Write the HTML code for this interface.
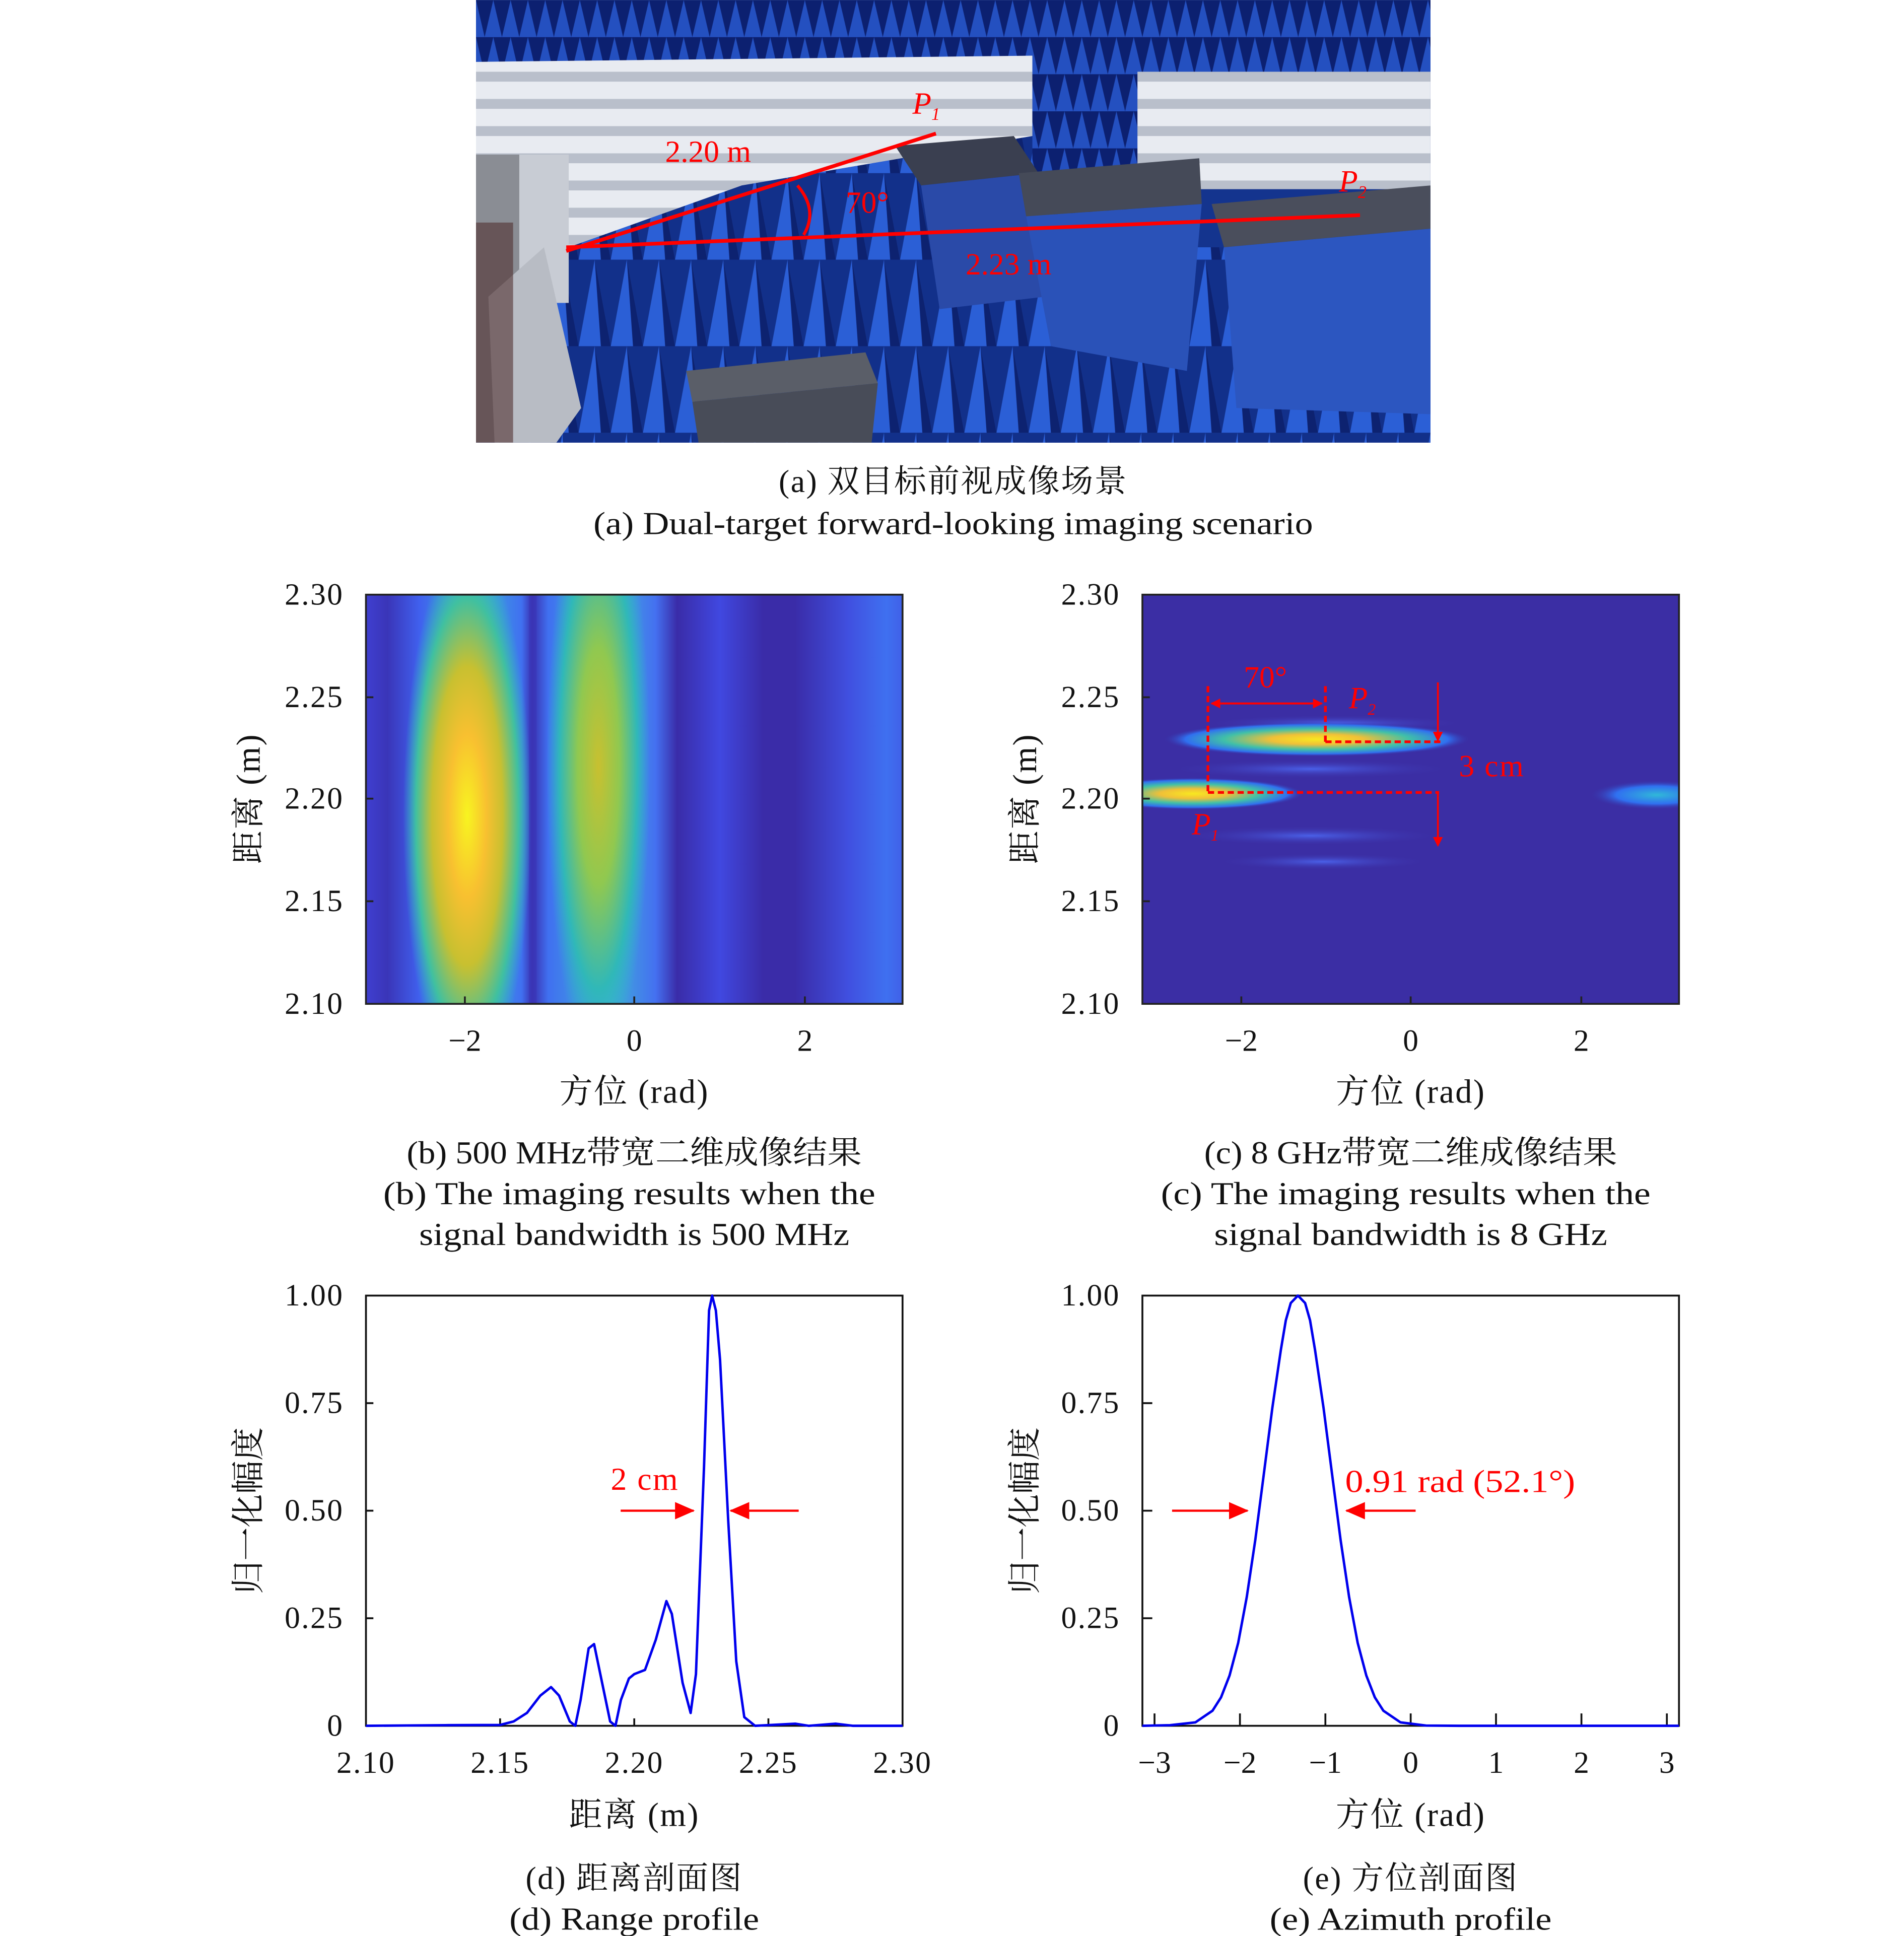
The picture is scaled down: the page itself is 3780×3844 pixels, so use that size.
<!DOCTYPE html>
<html><head><meta charset="utf-8"><style>
html,body{margin:0;padding:0;background:#fff}
svg{display:block}
text{font-family:"Liberation Serif","Noto Serif CJK SC","Noto Sans CJK SC",serif;fill:#111}
</style></head><body>
<svg width="3780" height="3844" viewBox="0 0 1540 1566" xmlns="http://www.w3.org/2000/svg">
<defs>
<pattern id="pyr" width="26" height="70" patternUnits="userSpaceOnUse">
<rect width="26" height="70" fill="#12308a"/>
<polygon points="0,70 13,0 26,70" fill="#2b5fd6"/>
<polygon points="13,0 26,70 18,70" fill="#0d2270"/>
</pattern>
<pattern id="pyrs" width="14" height="30" patternUnits="userSpaceOnUse">
<rect width="14" height="30" fill="#0c2070"/>
<polygon points="0,30 7,0 14,30" fill="#2450c0"/>
</pattern>
<pattern id="foam" width="30" height="22" patternUnits="userSpaceOnUse">
<rect width="30" height="22" fill="#e8ebf1"/>
<rect y="14" width="30" height="8" fill="#b9bfcb"/>
</pattern>
<linearGradient id="bband" x1="0" x2="1" y1="0" y2="0">
<stop offset="0" stop-color="#3f3fd0"/>
<stop offset="0.04" stop-color="#3a35b8"/>
<stop offset="0.1" stop-color="#4060ee"/>
<stop offset="0.2" stop-color="#3ab0d8"/>
<stop offset="0.29" stop-color="#4070f0"/>
<stop offset="0.31" stop-color="#3a30b0"/>
<stop offset="0.34" stop-color="#4070f0"/>
<stop offset="0.45" stop-color="#40b0d8"/>
<stop offset="0.54" stop-color="#4470f0"/>
<stop offset="0.58" stop-color="#3a2ca8"/>
<stop offset="0.66" stop-color="#4048e0"/>
<stop offset="0.74" stop-color="#3a2ca8"/>
<stop offset="0.8" stop-color="#3a2ca8"/>
<stop offset="0.9" stop-color="#4050e0"/>
<stop offset="0.97" stop-color="#3f70f0"/>
<stop offset="1" stop-color="#4060e8"/>
</linearGradient>
<radialGradient id="spot1" cx="0.5" cy="0.5" r="0.5">
<stop offset="0" stop-color="#f8f420"/>
<stop offset="0.3" stop-color="#f8c030"/>
<stop offset="0.55" stop-color="#c8c030"/>
<stop offset="0.8" stop-color="#40c0a0"/>
<stop offset="1" stop-color="#30b8c8" stop-opacity="0"/>
</radialGradient>
<radialGradient id="spot2" cx="0.5" cy="0.5" r="0.5">
<stop offset="0" stop-color="#c8c030"/>
<stop offset="0.4" stop-color="#90c850"/>
<stop offset="0.75" stop-color="#30b8b8"/>
<stop offset="1" stop-color="#30b0d0" stop-opacity="0"/>
</radialGradient>
<radialGradient id="cspot" cx="0.5" cy="0.5" r="0.5">
<stop offset="0" stop-color="#f8e820"/>
<stop offset="0.3" stop-color="#f0c038"/>
<stop offset="0.6" stop-color="#40c0a8"/>
<stop offset="0.85" stop-color="#3070f0"/>
<stop offset="1" stop-color="#3a2ca0" stop-opacity="0"/>
</radialGradient>
<radialGradient id="cfaint" cx="0.5" cy="0.5" r="0.5">
<stop offset="0" stop-color="#4a60e8"/>
<stop offset="1" stop-color="#3a2ca0" stop-opacity="0"/>
</radialGradient>
<radialGradient id="ccyan" cx="0.5" cy="0.5" r="0.5">
<stop offset="0" stop-color="#30b8d8"/>
<stop offset="0.6" stop-color="#3070f0"/>
<stop offset="1" stop-color="#3a2ca0" stop-opacity="0"/>
</radialGradient>
<marker id="ah" markerWidth="8" markerHeight="8" refX="7" refY="4" orient="auto" markerUnits="userSpaceOnUse">
<polygon points="0,0 8,4 0,8" fill="#f00"/></marker>
<marker id="ahb" markerWidth="16" markerHeight="14" refX="15" refY="7" orient="auto" markerUnits="userSpaceOnUse">
<polygon points="0,0 16,7 0,14" fill="#f00"/></marker>
<clipPath id="cb"><rect x="296" y="481" width="434" height="331"/></clipPath>
<clipPath id="cc"><rect x="924" y="481" width="434" height="331"/></clipPath>
<clipPath id="cp"><rect x="385" y="0" width="772" height="358"/></clipPath>
</defs>

<!-- PHOTO -->
<g clip-path="url(#cp)">
<rect x="385" y="0" width="772" height="358" fill="#14348e"/>
<rect x="385" y="0" width="772" height="60" fill="url(#pyrs)"/>
<rect x="830" y="0" width="90" height="360" fill="url(#pyrs)"/>
<polygon points="385,50 835,45 835,110 600,150 460,200 385,200" fill="url(#foam)"/>
<rect x="920" y="58" width="237" height="95" fill="url(#foam)"/>
<rect x="385" y="200" width="772" height="160" fill="url(#pyr)"/>
<polygon points="460,200 600,150 835,110 835,210 460,210" fill="url(#pyr)"/>
<rect x="385" y="125" width="60" height="233" fill="#8a8d94"/>
<rect x="420" y="125" width="40" height="120" fill="#c8ccd4"/>
<polygon points="395,240 440,200 470,330 450,358 400,358" fill="#b8bcc4"/>
<polygon points="724,118 820,110 840,140 745,150" fill="#3a3f50"/>
<polygon points="745,150 840,140 845,240 760,250" fill="#2a4aa8"/>
<polygon points="824,140 970,128 972,165 830,175" fill="#454a58"/>
<polygon points="830,175 972,165 960,300 850,280" fill="#2a52b8"/>
<polygon points="980,165 1157,150 1157,185 990,200" fill="#4a4e5c"/>
<polygon points="990,200 1157,185 1157,335 1000,330" fill="#2c56c0"/>
<polygon points="555,300 700,285 710,310 560,325" fill="#5a5e68"/>
<polygon points="560,325 710,310 705,358 565,358" fill="#484c58"/>
<rect x="385" y="180" width="30" height="178" fill="#503030" opacity="0.6"/>
<line x1="458" y1="203" x2="757" y2="108" stroke="#f00" stroke-width="3"/>
<line x1="458" y1="200" x2="1100" y2="174" stroke="#f00" stroke-width="3"/>
<path d="M645,150 Q662,170 650,190" fill="none" stroke="#f00" stroke-width="2.5"/>
<text x="538" y="131" font-size="25" style="fill:#f00">2.20 m</text>
<text x="684" y="172" font-size="25" style="fill:#f00">70°</text>
<text x="781" y="222" font-size="25" style="fill:#f00">2.23 m</text>
<text x="738" y="92" font-size="25" font-style="italic" style="fill:#f00">P<tspan font-size="14" dy="5">1</tspan></text>
<text x="1083" y="155" font-size="25" font-style="italic" style="fill:#f00">P<tspan font-size="14" dy="5">2</tspan></text>
</g>
<text x="771" y="398" font-size="26" text-anchor="middle" letter-spacing="1">(a) 双目标前视成像场景</text>
<text x="771" y="432" font-size="26" text-anchor="middle" textLength="582" lengthAdjust="spacingAndGlyphs">(a) Dual-target forward-looking imaging scenario</text>

<!-- PLOT B -->
<g clip-path="url(#cb)">
<rect x="296" y="481" width="434" height="331" fill="url(#bband)"/>
<ellipse cx="378" cy="660" rx="52" ry="220" fill="url(#spot1)"/>
<ellipse cx="484" cy="620" rx="42" ry="240" fill="url(#spot2)"/>
<rect x="428" y="481" width="6" height="331" fill="#3a35b8" opacity="0.6"/>
</g>
<rect x="296" y="481" width="434" height="331" fill="none" stroke="#222" stroke-width="1.5"/>
<g stroke="#222" stroke-width="1.5">
<line x1="376" y1="812" x2="376" y2="806"/><line x1="513" y1="812" x2="513" y2="806"/><line x1="651" y1="812" x2="651" y2="806"/>
<line x1="296" y1="564" x2="302" y2="564"/><line x1="296" y1="646" x2="302" y2="646"/><line x1="296" y1="729" x2="302" y2="729"/>
</g>
<g font-size="25" text-anchor="end" letter-spacing="1">
<text x="278" y="489">2.30</text><text x="278" y="572">2.25</text><text x="278" y="654">2.20</text><text x="278" y="737">2.15</text><text x="278" y="820">2.10</text>
</g>
<g font-size="25" text-anchor="middle">
<text x="376" y="850">−2</text><text x="513" y="850">0</text><text x="651" y="850">2</text>
<text x="513" y="892" font-size="27" letter-spacing="1">方位 (rad)</text>
</g>
<text transform="translate(210,646) rotate(-90)" font-size="27" text-anchor="middle" letter-spacing="1">距离 (m)</text>
<g font-size="26" text-anchor="middle">
<text x="513" y="941" textLength="368" lengthAdjust="spacingAndGlyphs">(b) 500 MHz带宽二维成像结果</text>
<text x="509" y="974" textLength="398" lengthAdjust="spacingAndGlyphs">(b) The imaging results when the</text>
<text x="513" y="1007" textLength="348" lengthAdjust="spacingAndGlyphs">signal bandwidth is 500 MHz</text>
</g>

<!-- PLOT C -->
<g clip-path="url(#cc)">
<rect x="924" y="481" width="434" height="331" fill="#3b2ea4"/>
<ellipse cx="1060" cy="622" rx="120" ry="8" fill="url(#cfaint)"/>
<ellipse cx="1060" cy="676" rx="110" ry="8" fill="url(#cfaint)"/>
<ellipse cx="1070" cy="697" rx="90" ry="7" fill="url(#cfaint)"/>
<ellipse cx="1080" cy="585" rx="110" ry="7" fill="url(#cfaint)"/>
<ellipse cx="1065" cy="598" rx="125" ry="14" fill="url(#cspot)"/>
<ellipse cx="965" cy="642" rx="90" ry="13" fill="url(#cspot)"/>
<ellipse cx="1340" cy="643" rx="55" ry="12" fill="url(#ccyan)"/>
</g>
<rect x="924" y="481" width="434" height="331" fill="none" stroke="#222" stroke-width="1.5"/>
<g stroke="#f00" stroke-width="2.2" stroke-dasharray="5,3" fill="none">
<line x1="977" y1="555" x2="977" y2="641"/>
<line x1="977" y1="641" x2="1164" y2="641"/>
<line x1="1072" y1="555" x2="1072" y2="600"/>
<line x1="1072" y1="600" x2="1165" y2="600"/>
</g>
<g stroke="#f00" stroke-width="1.5">
<line x1="980" y1="569" x2="1069" y2="569" marker-end="url(#ah)"/>
<line x1="1069" y1="569" x2="980" y2="569" marker-end="url(#ah)"/>
<line x1="1163" y1="552" x2="1163" y2="599" marker-end="url(#ah)"/>
<line x1="1163" y1="641" x2="1163" y2="684" marker-end="url(#ah)"/>
</g>
<text x="1006" y="556" font-size="25" style="fill:#f00">70°</text>
<text x="1091" y="573" font-size="25" font-style="italic" style="fill:#f00">P<tspan font-size="13" dy="5">2</tspan></text>
<text x="964" y="675" font-size="25" font-style="italic" style="fill:#f00">P<tspan font-size="13" dy="5">1</tspan></text>
<text x="1180" y="628" font-size="25" style="fill:#f00" letter-spacing="1">3 cm</text>
<g stroke="#222" stroke-width="1.5">
<line x1="1004" y1="812" x2="1004" y2="806"/><line x1="1141" y1="812" x2="1141" y2="806"/><line x1="1279" y1="812" x2="1279" y2="806"/>
<line x1="924" y1="564" x2="930" y2="564"/><line x1="924" y1="646" x2="930" y2="646"/><line x1="924" y1="729" x2="930" y2="729"/>
</g>
<g font-size="25" text-anchor="end" letter-spacing="1">
<text x="906" y="489">2.30</text><text x="906" y="572">2.25</text><text x="906" y="654">2.20</text><text x="906" y="737">2.15</text><text x="906" y="820">2.10</text>
</g>
<g font-size="25" text-anchor="middle">
<text x="1004" y="850">−2</text><text x="1141" y="850">0</text><text x="1279" y="850">2</text>
<text x="1141" y="892" font-size="27" letter-spacing="1">方位 (rad)</text>
</g>
<text transform="translate(838,646) rotate(-90)" font-size="27" text-anchor="middle" letter-spacing="1">距离 (m)</text>
<g font-size="26" text-anchor="middle">
<text x="1141" y="941" textLength="334" lengthAdjust="spacingAndGlyphs">(c) 8 GHz带宽二维成像结果</text>
<text x="1137" y="974" textLength="396" lengthAdjust="spacingAndGlyphs">(c) The imaging results when the</text>
<text x="1141" y="1007" textLength="318" lengthAdjust="spacingAndGlyphs">signal bandwidth is 8 GHz</text>
</g>

<!-- PLOT D -->
<rect x="296" y="1048" width="434" height="348" fill="none" stroke="#111" stroke-width="1.5"/>
<g stroke="#111" stroke-width="1.5">
<line x1="404.5" y1="1396" x2="404.5" y2="1390"/><line x1="513" y1="1396" x2="513" y2="1390"/><line x1="621.5" y1="1396" x2="621.5" y2="1390"/>
<line x1="296" y1="1135" x2="302" y2="1135"/><line x1="296" y1="1222" x2="302" y2="1222"/><line x1="296" y1="1309" x2="302" y2="1309"/>
</g>
<polyline fill="none" stroke="#0000ee" stroke-width="2" stroke-linejoin="round" points="296,1396 360,1395.5 404.5,1395.3 415.4,1392.5 426.2,1385.6 437,1371.6 445.7,1364.7 452.2,1371.6 460.9,1392.5 465.3,1396 469.6,1375.1 476.1,1333.4 480.5,1329.9 487,1361.2 493.5,1392.5 497.8,1396 502.2,1375.1 508.7,1357.7 513,1354.2 521.7,1350.8 530.4,1326.4 539,1295.1 543.4,1305.5 552.1,1361.2 558.6,1385.6 562.9,1354.2 569.4,1187.2 573.5,1060 576,1048 579,1060 582.4,1100 589,1230 595.5,1343.8 602,1389 610.7,1396 643.2,1394.3 654,1396 675.8,1394.3 690,1396 730,1396"/>
<g stroke="#f00" stroke-width="1.8">
<line x1="502" y1="1222" x2="561" y2="1222" marker-end="url(#ahb)"/>
<line x1="646" y1="1222" x2="591" y2="1222" marker-end="url(#ahb)"/>
</g>
<text x="494" y="1205" font-size="26" style="fill:#f00" letter-spacing="1">2 cm</text>
<g font-size="25" text-anchor="end" letter-spacing="1">
<text x="278" y="1056">1.00</text><text x="278" y="1143">0.75</text><text x="278" y="1230">0.50</text><text x="278" y="1317">0.25</text><text x="278" y="1404">0</text>
</g>
<g font-size="25" text-anchor="middle" letter-spacing="1">
<text x="296" y="1434">2.10</text><text x="404.5" y="1434">2.15</text><text x="513" y="1434">2.20</text><text x="621.5" y="1434">2.25</text><text x="730" y="1434">2.30</text>
<text x="513" y="1477" font-size="27">距离 (m)</text>
</g>
<text transform="translate(210,1222) rotate(-90)" font-size="27" text-anchor="middle">归一化幅度</text>
<text x="513" y="1528" font-size="26" text-anchor="middle" letter-spacing="1">(d) 距离剖面图</text>
<text x="513" y="1561" font-size="26" text-anchor="middle" textLength="202" lengthAdjust="spacingAndGlyphs">(d) Range profile</text>

<!-- PLOT E -->
<rect x="924" y="1048" width="434" height="348" fill="none" stroke="#111" stroke-width="1.5"/>
<g stroke="#111" stroke-width="1.5">
<line x1="933.8" y1="1396" x2="933.8" y2="1386"/><line x1="1002.9" y1="1396" x2="1002.9" y2="1386"/><line x1="1072" y1="1396" x2="1072" y2="1386"/><line x1="1141" y1="1396" x2="1141" y2="1386"/><line x1="1210" y1="1396" x2="1210" y2="1386"/><line x1="1279.1" y1="1396" x2="1279.1" y2="1386"/><line x1="1348.2" y1="1396" x2="1348.2" y2="1386"/>
<line x1="924" y1="1135" x2="932" y2="1135"/><line x1="924" y1="1222" x2="932" y2="1222"/><line x1="924" y1="1309" x2="932" y2="1309"/>
</g>
<polyline fill="none" stroke="#0000ee" stroke-width="2" stroke-linejoin="round" points="924,1396 946.2,1395.5 966.9,1393.2 980.7,1383.8 987.6,1373 994.5,1355.3 1001.5,1328.8 1008.4,1291.9 1015.3,1245.7 1022.2,1192.4 1029.1,1138.8 1036,1091.8 1040,1068 1044,1054 1049.8,1048 1055.6,1054 1059.6,1068 1063.6,1091.8 1070.5,1138.8 1077.4,1192.4 1084.3,1245.7 1091.2,1291.9 1098.1,1328.8 1105.1,1355.3 1112,1373 1118.9,1383.8 1132.7,1393.2 1153.4,1395.8 1180,1396 1358,1396"/>
<g stroke="#f00" stroke-width="1.8">
<line x1="948" y1="1222" x2="1009" y2="1222" marker-end="url(#ahb)"/>
<line x1="1145" y1="1222" x2="1089" y2="1222" marker-end="url(#ahb)"/>
</g>
<text x="1088" y="1207" font-size="26" style="fill:#f00" textLength="186" lengthAdjust="spacingAndGlyphs">0.91 rad (52.1°)</text>
<g font-size="25" text-anchor="end" letter-spacing="1">
<text x="906" y="1056">1.00</text><text x="906" y="1143">0.75</text><text x="906" y="1230">0.50</text><text x="906" y="1317">0.25</text><text x="906" y="1404">0</text>
</g>
<g font-size="25" text-anchor="middle">
<text x="933.8" y="1434">−3</text><text x="1002.9" y="1434">−2</text><text x="1072" y="1434">−1</text><text x="1141" y="1434">0</text><text x="1210" y="1434">1</text><text x="1279.1" y="1434">2</text><text x="1348.2" y="1434">3</text>
<text x="1141" y="1477" font-size="27" letter-spacing="1">方位 (rad)</text>
</g>
<text transform="translate(838,1222) rotate(-90)" font-size="27" text-anchor="middle">归一化幅度</text>
<text x="1141" y="1528" font-size="26" text-anchor="middle" letter-spacing="1">(e) 方位剖面图</text>
<text x="1141" y="1561" font-size="26" text-anchor="middle" textLength="228" lengthAdjust="spacingAndGlyphs">(e) Azimuth profile</text>
</svg>
</body></html>
